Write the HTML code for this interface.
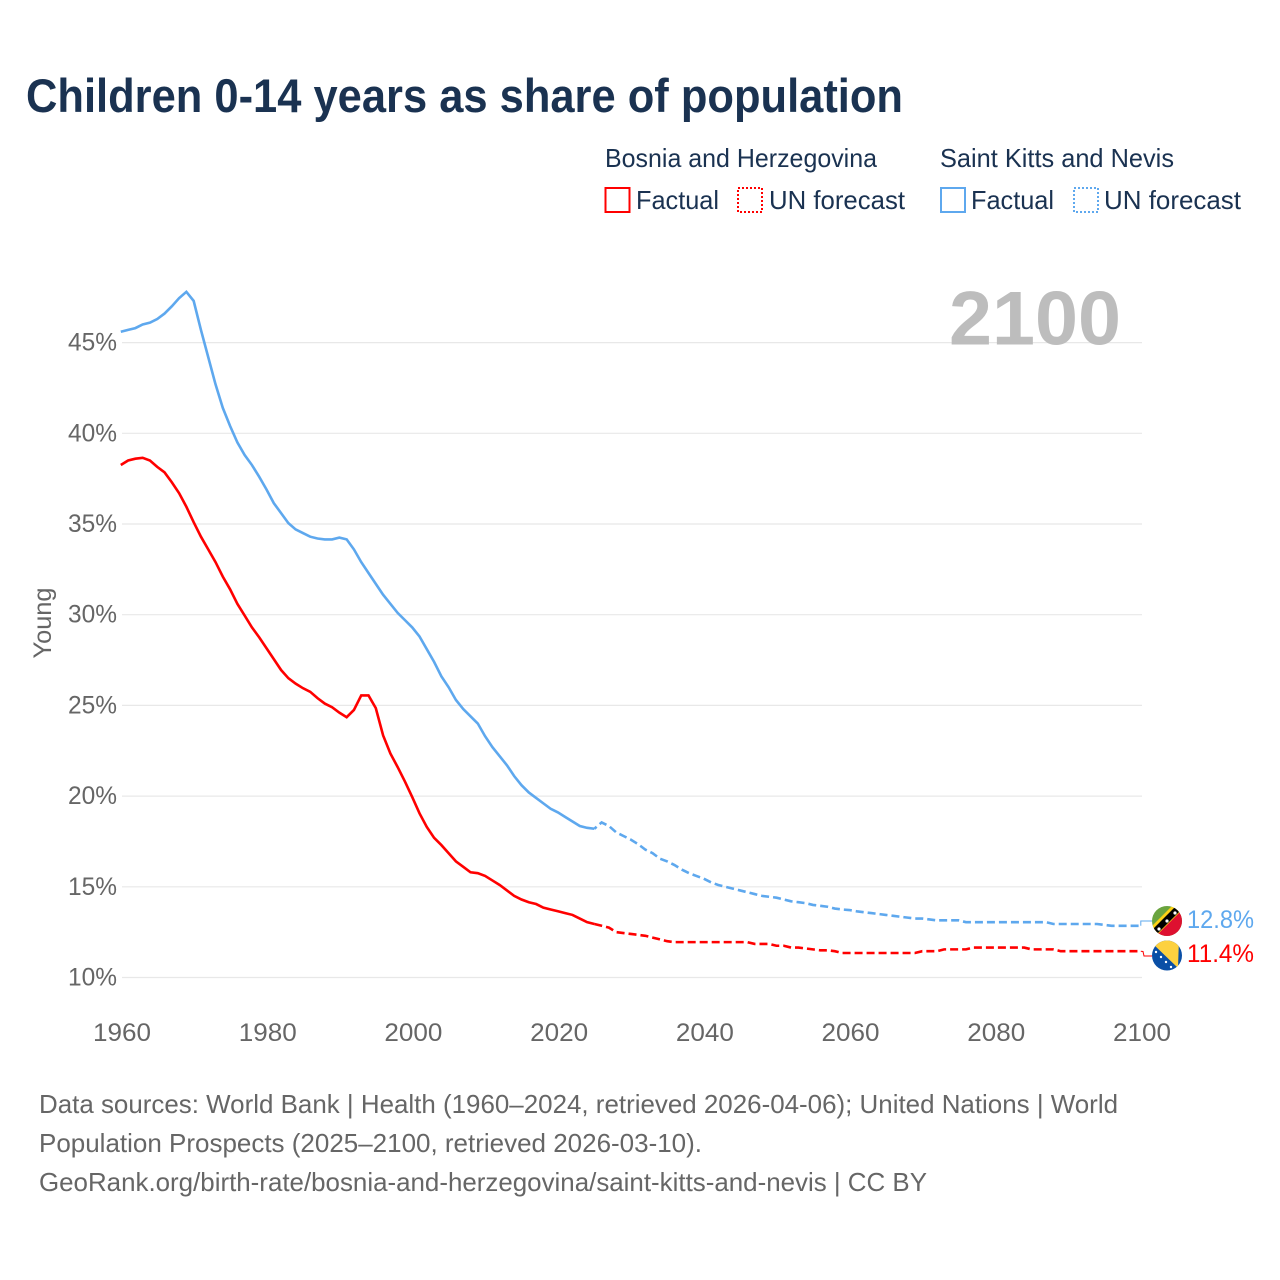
<!DOCTYPE html>
<html lang="en">
<head>
<meta charset="utf-8">
<title>Children 0-14 years as share of population</title>
<style>
html,body{margin:0;padding:0;background:#fff;}
svg{display:block;font-family:"Liberation Sans",Arial,sans-serif;}
</style>
</head>
<body>
<svg id="chart" xmlns="http://www.w3.org/2000/svg" width="1280" height="1280" viewBox="0 0 1280 1280">
  <defs>
    <clipPath id="clip-kn"><circle cx="1167" cy="921" r="15"/></clipPath>
    <clipPath id="clip-ba"><circle cx="1167" cy="955.5" r="15"/></clipPath>
  </defs>
  <rect x="0" y="0" width="1280" height="1280" fill="#ffffff"/>
  <text x="26" y="112" font-size="47" font-weight="700" fill="#1a3251" textLength="877" lengthAdjust="spacingAndGlyphs">Children 0-14 years as share of population</text>

  <g>
    <text x="605" y="167" font-size="26" fill="#1a3251" textLength="272" lengthAdjust="spacingAndGlyphs">Bosnia and Herzegovina</text>
    <text x="940" y="167" font-size="26" fill="#1a3251" textLength="234" lengthAdjust="spacingAndGlyphs">Saint Kitts and Nevis</text>
    <rect x="605.5" y="188" width="24" height="24" fill="none" stroke="#ff0000" stroke-width="2"/>
    <text x="636" y="209" font-size="26" fill="#1a3251" textLength="83" lengthAdjust="spacingAndGlyphs">Factual</text>
    <rect x="738" y="188" width="24" height="24" fill="none" stroke="#ff0000" stroke-width="2" stroke-dasharray="2 2"/>
    <text x="769" y="209" font-size="26" fill="#1a3251" textLength="136" lengthAdjust="spacingAndGlyphs">UN forecast</text>
    <rect x="941" y="188" width="24" height="24" fill="none" stroke="#5ea8ee" stroke-width="2"/>
    <text x="971" y="209" font-size="26" fill="#1a3251" textLength="83" lengthAdjust="spacingAndGlyphs">Factual</text>
    <rect x="1074" y="188" width="24" height="24" fill="none" stroke="#5ea8ee" stroke-width="2" stroke-dasharray="2 2"/>
    <text x="1104" y="209" font-size="26" fill="#1a3251" textLength="137" lengthAdjust="spacingAndGlyphs">UN forecast</text>
  </g>

  <g id="grid"></g>
  <text x="949" y="344.5" font-size="76" font-weight="700" fill="#bdbdbd" textLength="172" lengthAdjust="spacingAndGlyphs">2100</text>
  <g id="y-labels"></g>
  <g id="x-labels"></g>
  <text transform="translate(51 623) rotate(-90)" text-anchor="middle" font-size="25" fill="#666666" textLength="71" lengthAdjust="spacingAndGlyphs">Young</text>

  <g id="series"></g>

  <g clip-path="url(#clip-kn)">
    <rect x="1150" y="904" width="34" height="34" fill="#6aa43f"/>
    <polygon points="1184,904 1184,938 1150,938" fill="#de1030"/>
    <polygon points="1153.5,938.5 1185,907 1178,900 1146.5,931.5" fill="#fcd116"/>
    <polygon points="1155,936 1183,908 1178.5,903.5 1150.5,931.5" fill="#000000"/>
    <circle cx="1159" cy="929" r="1.6" fill="#fff"/>
    <circle cx="1167" cy="921" r="1.6" fill="#fff"/>
    <circle cx="1175" cy="913" r="1.6" fill="#fff"/>
  </g>
  <g clip-path="url(#clip-ba)">
    <rect x="1150" y="938" width="34" height="34" fill="#0a4fa6"/>
    <polygon points="1152,938 1179,938 1178,968 1152,943" fill="#fdd13f"/>
    <circle cx="1156" cy="952" r="1.2" fill="#fff"/>
    <circle cx="1161" cy="957" r="1.2" fill="#fff"/>
    <circle cx="1166" cy="962" r="1.2" fill="#fff"/>
    <circle cx="1171" cy="967" r="1.2" fill="#fff"/>
  </g>
  <text x="1187" y="928" font-size="25" fill="#5ea8ee" textLength="67" lengthAdjust="spacingAndGlyphs">12.8%</text>
  <text x="1187" y="962" font-size="25" fill="#ff0000" textLength="67" lengthAdjust="spacingAndGlyphs">11.4%</text>

  <g font-size="26" fill="#666666">
    <text x="39" y="1113" textLength="1079" lengthAdjust="spacingAndGlyphs">Data sources: World Bank | Health (1960–2024, retrieved 2026-04-06); United Nations | World</text>
    <text x="39" y="1152" textLength="663" lengthAdjust="spacingAndGlyphs">Population Prospects (2025–2100, retrieved 2026-03-10).</text>
    <text x="39" y="1191" textLength="888" lengthAdjust="spacingAndGlyphs">GeoRank.org/birth-rate/bosnia-and-herzegovina/saint-kitts-and-nevis | CC BY</text>
  </g>
</svg>
<script>
const xTicks = [1960, 1980, 2000, 2020, 2040, 2060, 2080, 2100];
const yTicks = [10, 15, 20, 25, 30, 35, 40, 45];
const factualStartYear = 1960;
const forecastStartYear = 2025;
const kittsFactual = [45.6,45.7,45.8,46.0,46.1,46.3,46.6,47.0,47.45,47.8,47.3,45.7,44.2,42.7,41.4,40.4,39.5,38.8,38.25,37.6,36.9,36.15,35.6,35.05,34.7,34.5,34.3,34.2,34.15,34.15,34.25,34.15,33.6,32.9,32.3,31.7,31.1,30.6,30.1,29.7,29.3,28.8,28.1,27.4,26.6,26.0,25.3,24.8,24.4,24.0,23.3,22.7,22.2,21.7,21.1,20.6,20.2,19.9,19.6,19.3,19.1,18.85,18.6,18.35,18.25,18.2];
const kittsForecast = [18.2,18.55,18.35,18.0,17.8,17.6,17.35,17.05,16.85,16.55,16.4,16.2,15.95,15.75,15.6,15.45,15.25,15.1,15.0,14.9,14.8,14.7,14.6,14.5,14.45,14.4,14.3,14.2,14.15,14.1,14.0,13.95,13.9,13.8,13.75,13.72,13.65,13.6,13.55,13.5,13.45,13.4,13.35,13.3,13.25,13.25,13.2,13.15,13.15,13.15,13.15,13.05,13.05,13.05,13.05,13.05,13.05,13.05,13.05,13.05,13.05,13.05,13.05,12.95,12.95,12.95,12.95,12.95,12.95,12.95,12.9,12.85,12.85,12.85,12.85,12.85];
const bosniaFactual = [38.25,38.5,38.6,38.65,38.5,38.15,37.85,37.3,36.7,35.95,35.1,34.3,33.6,32.9,32.1,31.4,30.6,29.95,29.3,28.75,28.15,27.55,26.95,26.5,26.2,25.95,25.75,25.4,25.1,24.9,24.6,24.35,24.75,25.55,25.55,24.85,23.35,22.35,21.6,20.8,19.95,19.05,18.3,17.7,17.3,16.85,16.4,16.1,15.8,15.75,15.6,15.35,15.1,14.8,14.5,14.3,14.15,14.05,13.85,13.75,13.65,13.55,13.45,13.25,13.05,12.95];
const bosniaForecast = [12.95,12.85,12.75,12.5,12.45,12.4,12.35,12.3,12.2,12.1,12.0,11.95,11.95,11.95,11.95,11.95,11.95,11.95,11.95,11.95,11.95,11.95,11.85,11.85,11.85,11.75,11.75,11.65,11.65,11.6,11.55,11.5,11.5,11.45,11.35,11.35,11.35,11.35,11.35,11.35,11.35,11.35,11.35,11.35,11.35,11.45,11.45,11.45,11.55,11.55,11.55,11.55,11.65,11.65,11.65,11.65,11.65,11.65,11.65,11.65,11.55,11.55,11.55,11.55,11.45,11.45,11.45,11.45,11.45,11.45,11.45,11.45,11.45,11.45,11.45,11.45];

const SVG_NS = 'http://www.w3.org/2000/svg';
const xScale = function (year) { return 122 + (year - 1960) * (1020 / 140); };
const seriesX = function (year) { return xScale(year) - 1.2; };
const yScale = function (value) { return 977.5 - (value - 10) * 18.14; };

function linePath(values, startYear) {
  return values.map(function (v, i) {
    return (i === 0 ? 'M' : 'L') + seriesX(startYear + i).toFixed(2) + ' ' + yScale(v).toFixed(2);
  }).join(' ');
}

const gridGroup = document.getElementById('grid');
const yLabelGroup = document.getElementById('y-labels');
yTicks.forEach(function (t) {
  const line = document.createElementNS(SVG_NS, 'line');
  
  
  line.setAttribute('x1', xScale(1960));
  line.setAttribute('x2', xScale(2100));
  line.setAttribute('y1', yScale(t));
  line.setAttribute('y2', yScale(t));
  line.setAttribute('stroke', '#e8e8e8');
  line.setAttribute('stroke-width', '1.2');
  gridGroup.appendChild(line);

  const label = document.createElementNS(SVG_NS, 'text');
  
  
  label.setAttribute('x', 68);
  label.setAttribute('y', yScale(t) + 8);
  label.setAttribute('font-size', '25');
  label.setAttribute('fill', '#666666');
  label.setAttribute('textLength', '49');
  label.setAttribute('lengthAdjust', 'spacingAndGlyphs');
  label.textContent = t + '%';
  yLabelGroup.appendChild(label);
});

const xLabelGroup = document.getElementById('x-labels');
xTicks.forEach(function (t) {
  const label = document.createElementNS(SVG_NS, 'text');
  
  
  label.setAttribute('x', xScale(t) - 29);
  label.setAttribute('y', 1041);
  label.setAttribute('font-size', '25');
  label.setAttribute('fill', '#666666');
  label.setAttribute('textLength', '58');
  label.setAttribute('lengthAdjust', 'spacingAndGlyphs');
  label.textContent = t;
  xLabelGroup.appendChild(label);
});

const seriesGroup = document.getElementById('series');

const kittsConnector = document.createElementNS(SVG_NS, 'path');


kittsConnector.setAttribute('d', 'M' + seriesX(2100) + ' ' + yScale(kittsForecast[kittsForecast.length - 1]) + ' V921 H1152');
kittsConnector.setAttribute('fill', 'none');
kittsConnector.setAttribute('stroke', '#5ea8ee');
kittsConnector.setAttribute('stroke-width', '1');
seriesGroup.appendChild(kittsConnector);

const bosniaConnector = document.createElementNS(SVG_NS, 'path');


bosniaConnector.setAttribute('d', 'M' + seriesX(2100) + ' ' + yScale(bosniaForecast[bosniaForecast.length - 1]) + ' L1143 951.5 L1144 956 H1152');
bosniaConnector.setAttribute('fill', 'none');
bosniaConnector.setAttribute('stroke', '#ff0000');
bosniaConnector.setAttribute('stroke-width', '1');
seriesGroup.appendChild(bosniaConnector);

const kittsForecastLine = document.createElementNS(SVG_NS, 'path');


kittsForecastLine.setAttribute('d', linePath(kittsForecast, forecastStartYear));
kittsForecastLine.setAttribute('fill', 'none');
kittsForecastLine.setAttribute('stroke', '#5ea8ee');
kittsForecastLine.setAttribute('stroke-width', '2.6');
kittsForecastLine.setAttribute('stroke-dasharray', '8 4');
kittsForecastLine.setAttribute('stroke-dashoffset', '5');
seriesGroup.appendChild(kittsForecastLine);

const bosniaForecastLine = document.createElementNS(SVG_NS, 'path');


bosniaForecastLine.setAttribute('d', linePath(bosniaForecast, forecastStartYear));
bosniaForecastLine.setAttribute('fill', 'none');
bosniaForecastLine.setAttribute('stroke', '#ff0000');
bosniaForecastLine.setAttribute('stroke-width', '2.6');
bosniaForecastLine.setAttribute('stroke-dasharray', '8 4');
seriesGroup.appendChild(bosniaForecastLine);

const kittsFactualLine = document.createElementNS(SVG_NS, 'path');


kittsFactualLine.setAttribute('d', linePath(kittsFactual, factualStartYear));
kittsFactualLine.setAttribute('fill', 'none');
kittsFactualLine.setAttribute('stroke', '#5ea8ee');
kittsFactualLine.setAttribute('stroke-width', '2.6');
seriesGroup.appendChild(kittsFactualLine);

const bosniaFactualLine = document.createElementNS(SVG_NS, 'path');


bosniaFactualLine.setAttribute('d', linePath(bosniaFactual, factualStartYear));
bosniaFactualLine.setAttribute('fill', 'none');
bosniaFactualLine.setAttribute('stroke', '#ff0000');
bosniaFactualLine.setAttribute('stroke-width', '2.6');
seriesGroup.appendChild(bosniaFactualLine);
</script>
</body>
</html>
